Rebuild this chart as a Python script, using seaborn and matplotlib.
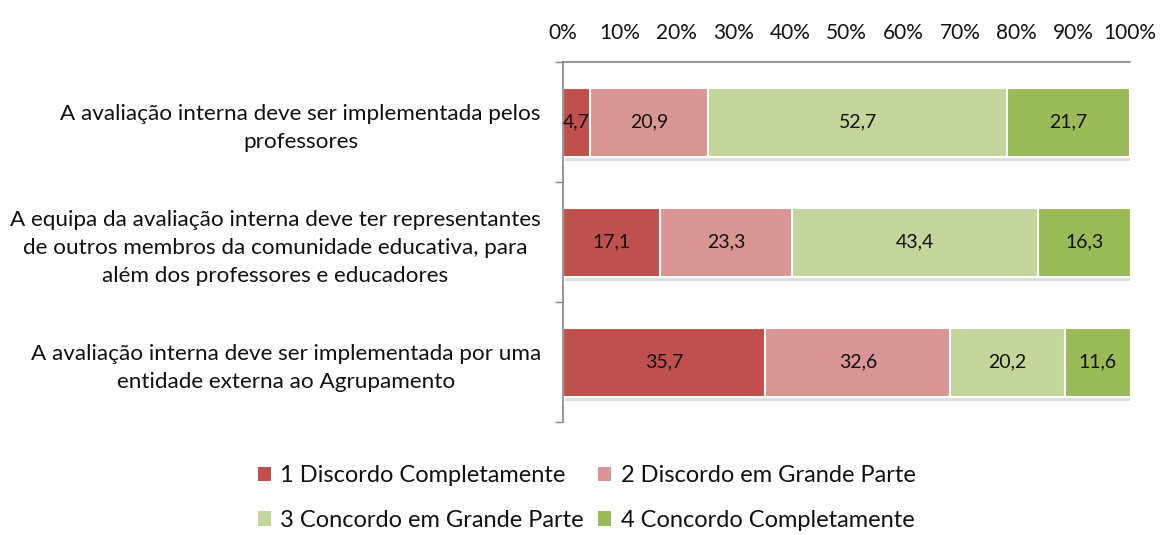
import seaborn as sns
import matplotlib.pyplot as plt
import matplotlib.patheffects as pe
from matplotlib.patches import Patch
from matplotlib.ticker import FuncFormatter
import numpy as np
import pandas as pd

## data
categorias = [
    "A avaliação interna deve ser implementada pelos\nprofessores",
    "A equipa da avaliação interna deve ter representantes\nde outros membros da comunidade educativa, para\nalém dos professores e educadores",
    "A avaliação interna deve ser implementada por uma\nentidade externa ao Agrupamento",
]
respostas = ["1 Discordo Completamente", "2 Discordo em Grande Parte",
             "3 Concordo em Grande Parte", "4 Concordo Completamente"]
discordo_comp = [4.7, 17.1, 35.7]
discordo_gp = [20.9, 23.3, 32.6]
concordo_gp = [52.7, 43.4, 20.2]
concordo_comp = [21.7, 16.3, 11.6]
cores = ["#C0504D", "#D99694", "#C3D69B", "#9BBB59"]
xticks_pct = [0, 10, 20, 30, 40, 50, 60, 70, 80, 90, 100]

valores = np.array([discordo_comp, discordo_gp, concordo_gp, concordo_comp])
acumulado = valores.cumsum(axis=0)

sns.set_theme(style="white")
plt.rcParams['font.family'] = ['Lato', 'DejaVu Sans']

fig, ax = plt.subplots(figsize=(11.62, 5.35), dpi=100)
fig.subplots_adjust(left=0.4845, right=0.9725, top=0.884, bottom=0.211)

# stacked bars: draw cumulative totals from the largest down
for i in range(len(respostas) - 1, -1, -1):
    df = pd.DataFrame({"cat": categorias, "v": acumulado[i]})
    n_before = len(ax.patches)
    sns.barplot(data=df, x="v", y="cat", color=cores[i], width=0.575,
                edgecolor="white", linewidth=1.5, saturation=1, ax=ax)
    if i == len(respostas) - 1:
        for p in ax.patches[n_before:]:
            p.set_path_effects([pe.SimplePatchShadow(offset=(1.5, -3), shadow_rgbFace="#aaaaaa", alpha=0.4),
                                pe.Normal()])

# data labels
for i in range(len(respostas)):
    for j in range(len(categorias)):
        centro = acumulado[i][j] - valores[i][j] / 2
        ax.text(centro, j, f"{valores[i][j]:.1f}".replace(".", ","),
                ha="center", va="center", fontsize=14, color="#111111")

ax.set_xlim(0, 100)
ax.set_ylim(2.5, -0.5)
ax.set_xlabel("")
ax.set_ylabel("")

ax.xaxis.tick_top()
ax.set_xticks(xticks_pct)
ax.xaxis.set_major_formatter(FuncFormatter(lambda x, pos: f"{x:.0f}%"))
ax.tick_params(axis="x", length=0, pad=14, labelsize=15, colors="#111111")

ax.set_yticks(range(len(categorias)))
ax.set_yticklabels(categorias, multialignment="center", linespacing=1.5)
ax.tick_params(axis="y", which="major", length=0, pad=16, labelsize=16.2, colors="#111111")
ax.set_yticks([-0.5, 0.5, 1.5, 2.5], minor=True)
ax.tick_params(axis="y", which="minor", left=True, length=6, width=1, color="#868686")

for s in ["right", "bottom"]:
    ax.spines[s].set_visible(False)
for s in ["left", "top"]:
    ax.spines[s].set_color("#868686")
    ax.spines[s].set_linewidth(1.2)

# legend filled row by row
handles = [Patch(facecolor=c, edgecolor="none") for c in cores]
ordem = [0, 2, 1, 3]
fig.legend([handles[k] for k in ordem], [respostas[k] for k in ordem],
           loc="center", bbox_to_anchor=(0.505, 0.069), ncol=2,
           frameon=False, fontsize=17, handlelength=0.55, handleheight=0.55,
           handletextpad=0.4, columnspacing=0.6, labelspacing=1.0,
           labelcolor="#111111")

plt.savefig("out.png", dpi=100)
